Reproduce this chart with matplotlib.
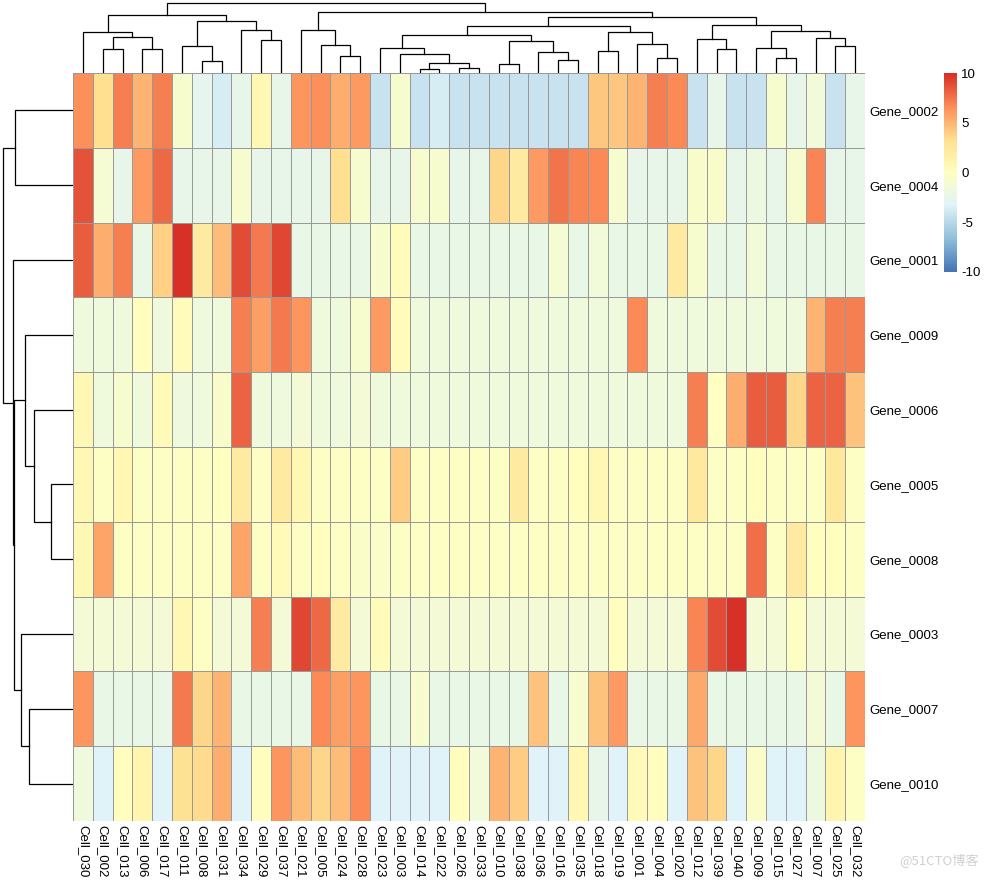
import numpy as np
import matplotlib.pyplot as plt
from matplotlib.colors import LinearSegmentedColormap

plt.rcParams['axes.unicode_minus'] = False

# genes and cells in the clustered display order
genes = ['Gene_0002', 'Gene_0004', 'Gene_0001', 'Gene_0009', 'Gene_0006',
         'Gene_0005', 'Gene_0008', 'Gene_0003', 'Gene_0007', 'Gene_0010']
cells = ['Cell_030', 'Cell_002', 'Cell_013', 'Cell_006', 'Cell_017', 'Cell_011',
         'Cell_008', 'Cell_031', 'Cell_034', 'Cell_029', 'Cell_037', 'Cell_021',
         'Cell_005', 'Cell_024', 'Cell_028', 'Cell_023', 'Cell_003', 'Cell_014',
         'Cell_022', 'Cell_026', 'Cell_033', 'Cell_010', 'Cell_038', 'Cell_036',
         'Cell_016', 'Cell_035', 'Cell_018', 'Cell_019', 'Cell_001', 'Cell_004',
         'Cell_020', 'Cell_012', 'Cell_039', 'Cell_040', 'Cell_009', 'Cell_015',
         'Cell_027', 'Cell_007', 'Cell_025', 'Cell_032']

gene_0002 = [6.5, 3.3, 7.0, 5.0, 7.0, -1.0, -2.8, -3.8, -2.5, 0.7, -2.5, 6.2, 6.5, 5.3, 6.0, -4.3, -1.0, -4.3, -3.8, -4.3,
             -4.3, -4.3, -4.3, -4.3, -4.3, -4.3, 4.3, 4.3, 5.0, 7.0, 6.7, -4.3, -2.5, -4.3, -4.3, -1.0, -2.5, -1.5, -4.3, -2.5]
gene_0004 = [8.7, -1.2, -2.5, 6.0, 7.8, -2.5, -2.5, -2.5, -1.0, -2.5, -2.5, -2.5, -2.5, 3.3, -1.0, -2.5, -2.5, -1.0, -1.0, -2.5,
             -2.5, 3.6, 2.0, 6.0, 7.5, 6.8, 6.6, -1.0, -2.5, -2.5, -2.5, -0.8, -0.8, -2.5, -2.0, -2.5, -1.0, 6.9, -2.5, -2.5]
gene_0001 = [8.3, 5.2, 7.0, -2.3, 3.9, 10.0, 2.0, 4.7, 8.8, 7.3, 9.1, -2.3, -2.3, -2.3, -2.3, -1.0, 0.3, -2.3, -2.3, -2.3,
             -2.3, -2.3, -2.3, -2.3, -1.2, -2.3, -1.5, -2.3, -2.3, -2.3, 2.0, -1.0, -2.3, -2.3, -1.5, -2.3, -2.3, -2.3, -2.3, -2.3]
gene_0009 = [-1.8, -1.8, -1.8, 0.0, -1.8, 0.2, -1.8, -1.8, 7.0, 5.8, 7.3, 6.2, -1.8, -1.8, -1.0, 6.0, 0.3, -1.8, -1.8, -1.8,
             -1.8, -1.8, -1.8, -1.8, -1.8, -1.8, -1.8, -1.8, 6.6, -1.8, -1.8, -1.8, -1.8, -1.8, -1.8, -1.8, -1.8, 5.1, 7.0, 7.0]
gene_0006 = [0.7, -1.8, -1.0, -1.8, 0.5, -1.8, -1.8, -0.7, 8.2, -1.8, -1.8, -1.3, -1.8, -1.8, -1.3, -1.8, -1.8, -1.8, -1.8, -1.8,
             -1.8, -1.8, -1.8, -1.8, -1.8, -1.8, -1.8, -1.8, -1.8, -1.8, -1.8, 7.0, -0.2, 5.2, 8.3, 8.3, 3.6, 8.0, 8.0, 4.4]
gene_0005 = [0.6, -0.4, 0.9, -0.4, -0.4, -0.4, -0.4, -0.1, 2.0, -0.4, 2.0, 0.9, -0.4, -0.4, -0.4, -0.4, 4.0, -0.4, -0.4, -0.4,
             -0.4, -0.4, 2.0, -0.4, -0.4, 0.0, 0.6, -0.4, -0.4, -0.4, -0.4, 2.3, -0.4, -0.4, 0.1, -0.4, -0.4, -0.4, 2.5, -0.4]
gene_0008 = [0.6, 5.6, -0.4, -0.4, -0.4, -0.4, -0.4, -0.4, 5.6, -0.4, 0.5, -0.4, 0.0, -0.4, -0.6, -0.6, -0.4, -0.4, -0.4, -0.4,
             -0.4, -0.4, -0.4, -0.4, -0.4, -0.4, -0.4, -0.4, -0.4, -0.4, -0.4, -0.4, -0.4, -0.4, 7.6, -0.4, 2.0, 0.1, 0.0, -0.4]
gene_0003 = [-1.3, -1.3, -1.3, -1.3, -1.3, 0.6, -0.4, -1.3, -1.3, 7.0, -1.3, 9.1, 7.8, 2.0, -1.3, 0.2, -1.3, -1.3, -1.3, -1.3,
             -1.3, -1.3, -1.3, -1.3, -1.3, -1.3, -1.3, 0.0, -1.3, -1.3, -1.3, 6.9, 8.8, 10.0, -1.3, -1.3, -0.4, -1.3, -1.3, -1.3]
gene_0007 = [6.2, -2.4, -2.4, -2.4, -2.4, 7.4, 3.7, 5.0, -2.4, -2.4, -2.4, -2.4, 6.6, 5.8, 6.3, -2.4, -2.4, -1.0, -2.4, -2.4,
             -2.4, -2.4, -2.4, 4.5, -2.4, -1.0, 4.4, 6.0, -2.4, -2.4, -2.4, 5.5, -2.4, -2.4, -2.4, -2.4, -2.4, -1.3, -2.4, 6.2]
gene_0010 = [-1.8, -3.3, 0.0, 1.0, -3.3, 3.2, 3.4, 5.3, -3.3, 0.0, 6.2, 4.7, 3.7, 4.7, 6.6, -3.3, -3.3, -3.3, -3.3, 0.1,
             -1.5, 5.0, 4.0, -3.3, -3.3, 0.8, -2.5, -3.3, 0.5, 0.0, -3.3, 4.5, 3.6, -3.3, -0.6, -3.3, -3.3, -2.0, 1.0, -0.4]

# hierarchical merges: (left, right, height); index < n is a leaf, otherwise a previous merge
row_merges = [(0, 1, 57.7), (5, 6, 21.7), (4, 11, 38.7), (3, 12, 47.7), (8, 9, 43.7),
              (7, 14, 51.7), (13, 15, 58.7), (2, 16, 59.7), (10, 17, 69.7)]
col_merges = [(1, 2, 23.7), (3, 4, 23.7), (40, 41, 35.7), (0, 42, 40.7), (6, 7, 11.7),
              (5, 44, 26.7), (9, 10, 32.7), (8, 46, 42.7), (45, 47, 51.7), (43, 48, 57.7),
              (13, 14, 16.7), (12, 50, 27.7), (11, 51, 42.7), (17, 18, 3.7), (19, 20, 4.7),
              (53, 54, 9.7), (16, 55, 18.7), (15, 56, 24.7), (21, 22, 8.7), (24, 25, 12.7),
              (23, 59, 20.7), (58, 60, 31.7), (57, 61, 37.7), (26, 27, 21.7), (29, 30, 14.7),
              (28, 64, 28.7), (63, 65, 40.7), (62, 66, 46.7), (32, 33, 23.7), (31, 68, 33.7),
              (35, 36, 14.7), (34, 70, 24.7), (38, 39, 26.7), (37, 72, 34.7), (71, 73, 41.7),
              (69, 74, 47.7), (67, 75, 56.0), (52, 76, 60.7), (49, 77, 69.7)]

legend_ticks = [-10, -5, 0, 5, 10]

values = np.array([gene_0002, gene_0004, gene_0001, gene_0009, gene_0006,
                   gene_0005, gene_0008, gene_0003, gene_0007, gene_0010])


def dendro_segments(merges, n):
    # U-shaped links; node position is the midpoint of its children
    pos = [i + 0.5 for i in range(n)]
    hgt = [0.0] * n
    segs = []
    for a, b, h in merges:
        segs.append(([pos[a], pos[a], pos[b], pos[b]], [hgt[a], h, h, hgt[b]]))
        pos.append((pos[a] + pos[b]) / 2)
        hgt.append(h)
    return segs


W, H = 984, 885
fig = plt.figure(figsize=(W / 100, H / 100), dpi=100)


def px_axes(x0, y0, x1, y1):
    return fig.add_axes([x0 / W, 1 - y1 / H, (x1 - x0) / W, (y1 - y0) / H])


cmap = LinearSegmentedColormap.from_list(
    'rdylbu_r', ['#4575B4', '#91BFDB', '#E0F3F8', '#FFFFBF', '#FEE090', '#FC8D59', '#D73027'], N=100)

# heatmap
ax = px_axes(73, 73, 865, 821)
mesh = ax.pcolormesh(np.arange(len(cells) + 1), np.arange(len(genes) + 1), values,
                     cmap=cmap, vmin=-10, vmax=10, edgecolors='#999999', linewidth=0.6)
ax.set_xlim(0, len(cells))
ax.set_ylim(len(genes), 0)
ax.set_xticks(np.arange(len(cells)) + 0.5)
ax.set_xticklabels(cells, rotation=-90, fontsize=9.5, family='Liberation Sans')
ax.set_yticks(np.arange(len(genes)) + 0.5)
ax.set_yticklabels(genes, fontsize=9.5, family='Liberation Sans')
ax.yaxis.tick_right()
ax.tick_params(length=0, pad=3)
for s in ax.spines.values():
    s.set_visible(False)

# column dendrogram
axc = px_axes(73, 0, 865, 73)
for xs, ys in dendro_segments(col_merges, len(cells)):
    axc.plot(xs, ys, color='black', lw=0.9, solid_joinstyle='miter')
axc.set_xlim(0, len(cells))
axc.set_ylim(0, 73)
axc.axis('off')

# row dendrogram
axr = px_axes(0, 73, 73, 821)
for xs, ys in dendro_segments(row_merges, len(genes)):
    axr.plot(ys, xs, color='black', lw=0.9, solid_joinstyle='miter')
axr.set_ylim(len(genes), 0)
axr.set_xlim(73, 0)
axr.axis('off')

# colour legend
cax = px_axes(944, 73, 957, 272)
cb = fig.colorbar(mesh, cax=cax, ticks=legend_ticks)
cb.outline.set_visible(False)
cb.ax.set_yticklabels([str(t) for t in legend_ticks], fontsize=9.5, family='Liberation Sans')
cb.ax.tick_params(length=0, pad=3)

fig.text(0.995, 0.027, '@51CTO博客', ha='right', va='center', fontsize=9.5,
         color='#d0d0d0', family=['Noto Sans CJK SC', 'DejaVu Sans'])

fig.savefig('out.png', dpi=100)
